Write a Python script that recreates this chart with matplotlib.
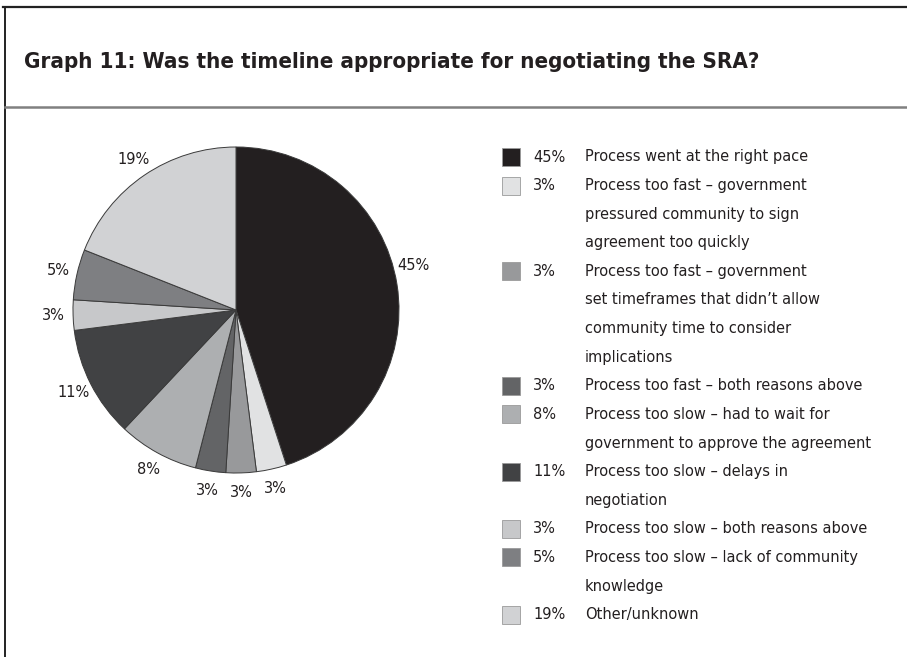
import numpy as np
import matplotlib
matplotlib.use("Agg")
import matplotlib.pyplot as plt
from matplotlib.patches import Rectangle
from matplotlib import font_manager as fm

title = "Graph 11: Was the timeline appropriate for negotiating the SRA?"

shares = [45, 3, 3, 3, 8, 11, 3, 5, 19]
pct_labels = ["45%", "3%", "3%", "3%", "8%", "11%", "3%", "5%", "19%"]
colors = ["#231f20", "#e1e2e3", "#98999b", "#636466", "#adafb1",
          "#414244", "#c7c8ca", "#7e7f82", "#d1d2d4"]
descriptions = [
    ["Process went at the right pace"],
    ["Process too fast \u2013 government", "pressured community to sign",
     "agreement too quickly"],
    ["Process too fast \u2013 government", "set timeframes that didn\u2019t allow",
     "community time to consider", "implications"],
    ["Process too fast \u2013 both reasons above"],
    ["Process too slow \u2013 had to wait for",
     "government to approve the agreement"],
    ["Process too slow \u2013 delays in", "negotiation"],
    ["Process too slow \u2013 both reasons above"],
    ["Process too slow \u2013 lack of community", "knowledge"],
    ["Other/unknown"],
]

# narrow faces if the system has them
reg = fm.FontProperties(fname=fm.findfont(
    fm.FontProperties(family="DejaVu Sans", stretch="condensed", weight="normal")))
bld = fm.FontProperties(fname=fm.findfont(
    fm.FontProperties(family="DejaVu Sans", stretch="condensed", weight="bold")))

W, H = 907, 657
fig = plt.figure(figsize=(W / 100, H / 100), dpi=100)
renderer = fig.canvas.get_renderer()


def fit_size(text, prop, target_px):
    p = prop.copy()
    p.set_size(10)
    w, _, _ = renderer.get_text_width_height_descent(text, p, ismath=False)
    return 10 * target_px / w


body = reg.copy()
body.set_size(min(fit_size("Process too slow \u2013 both reasons above", reg, 283), 15))
head = bld.copy()
head.set_size(max(min(fit_size(title, bld, 411), 19), 16))

# frame / title area drawn in pixel coords
bg = fig.add_axes([0, 0, 1, 1])
bg.set_xlim(0, W)
bg.set_ylim(H, 0)
bg.axis('off')
bg.plot([3, W], [7, 7], color="#222222", lw=1.6)
bg.plot([4.5, 4.5], [7, H], color="#222222", lw=1.4)
bg.plot([4.5, W], [106.5, 106.5], color="#808080", lw=1.8)
bg.text(24, 62, title, fontproperties=head, color="#231f20",
        va='center', ha='left')

# pie: centre (236, 310), radius 163 px
cx, cy, R = 236, 310, 163
L = 1.4
side = 2 * L * R
ax = fig.add_axes([(cx - side / 2) / W, (H - cy - side / 2) / H, side / W, side / H])
wedges, _ = ax.pie(shares, colors=colors, startangle=90, counterclock=False,
                   wedgeprops=dict(edgecolor="#3a3a3a", linewidth=0.7))
ax.set_xlim(-L, L)
ax.set_ylim(-L, L)
ax.set_aspect('equal')
for w, lab in zip(wedges, pct_labels):
    mid = (w.theta1 + w.theta2) / 2
    if w.theta2 - w.theta1 > 90:
        mid += 5  # big slice label sits a bit higher in the original
    mid = np.deg2rad(mid)
    ax.text(1.12 * np.cos(mid), 1.12 * np.sin(mid), lab, fontproperties=body,
            color="#231f20", ha='center', va='center')

# legend
line_h = 28.6
y = 157
for col, pct, desc in zip(colors, pct_labels, descriptions):
    bg.add_patch(Rectangle((502, y - 9), 18, 18, facecolor=col,
                           edgecolor="#9a9a9a", linewidth=0.6))
    bg.text(533, y, pct, fontproperties=body, color="#231f20", va='center', ha='left')
    for line in desc:
        bg.text(585, y, line, fontproperties=body, color="#231f20",
                va='center', ha='left')
        y += line_h

fig.savefig("out.png", dpi=100)
